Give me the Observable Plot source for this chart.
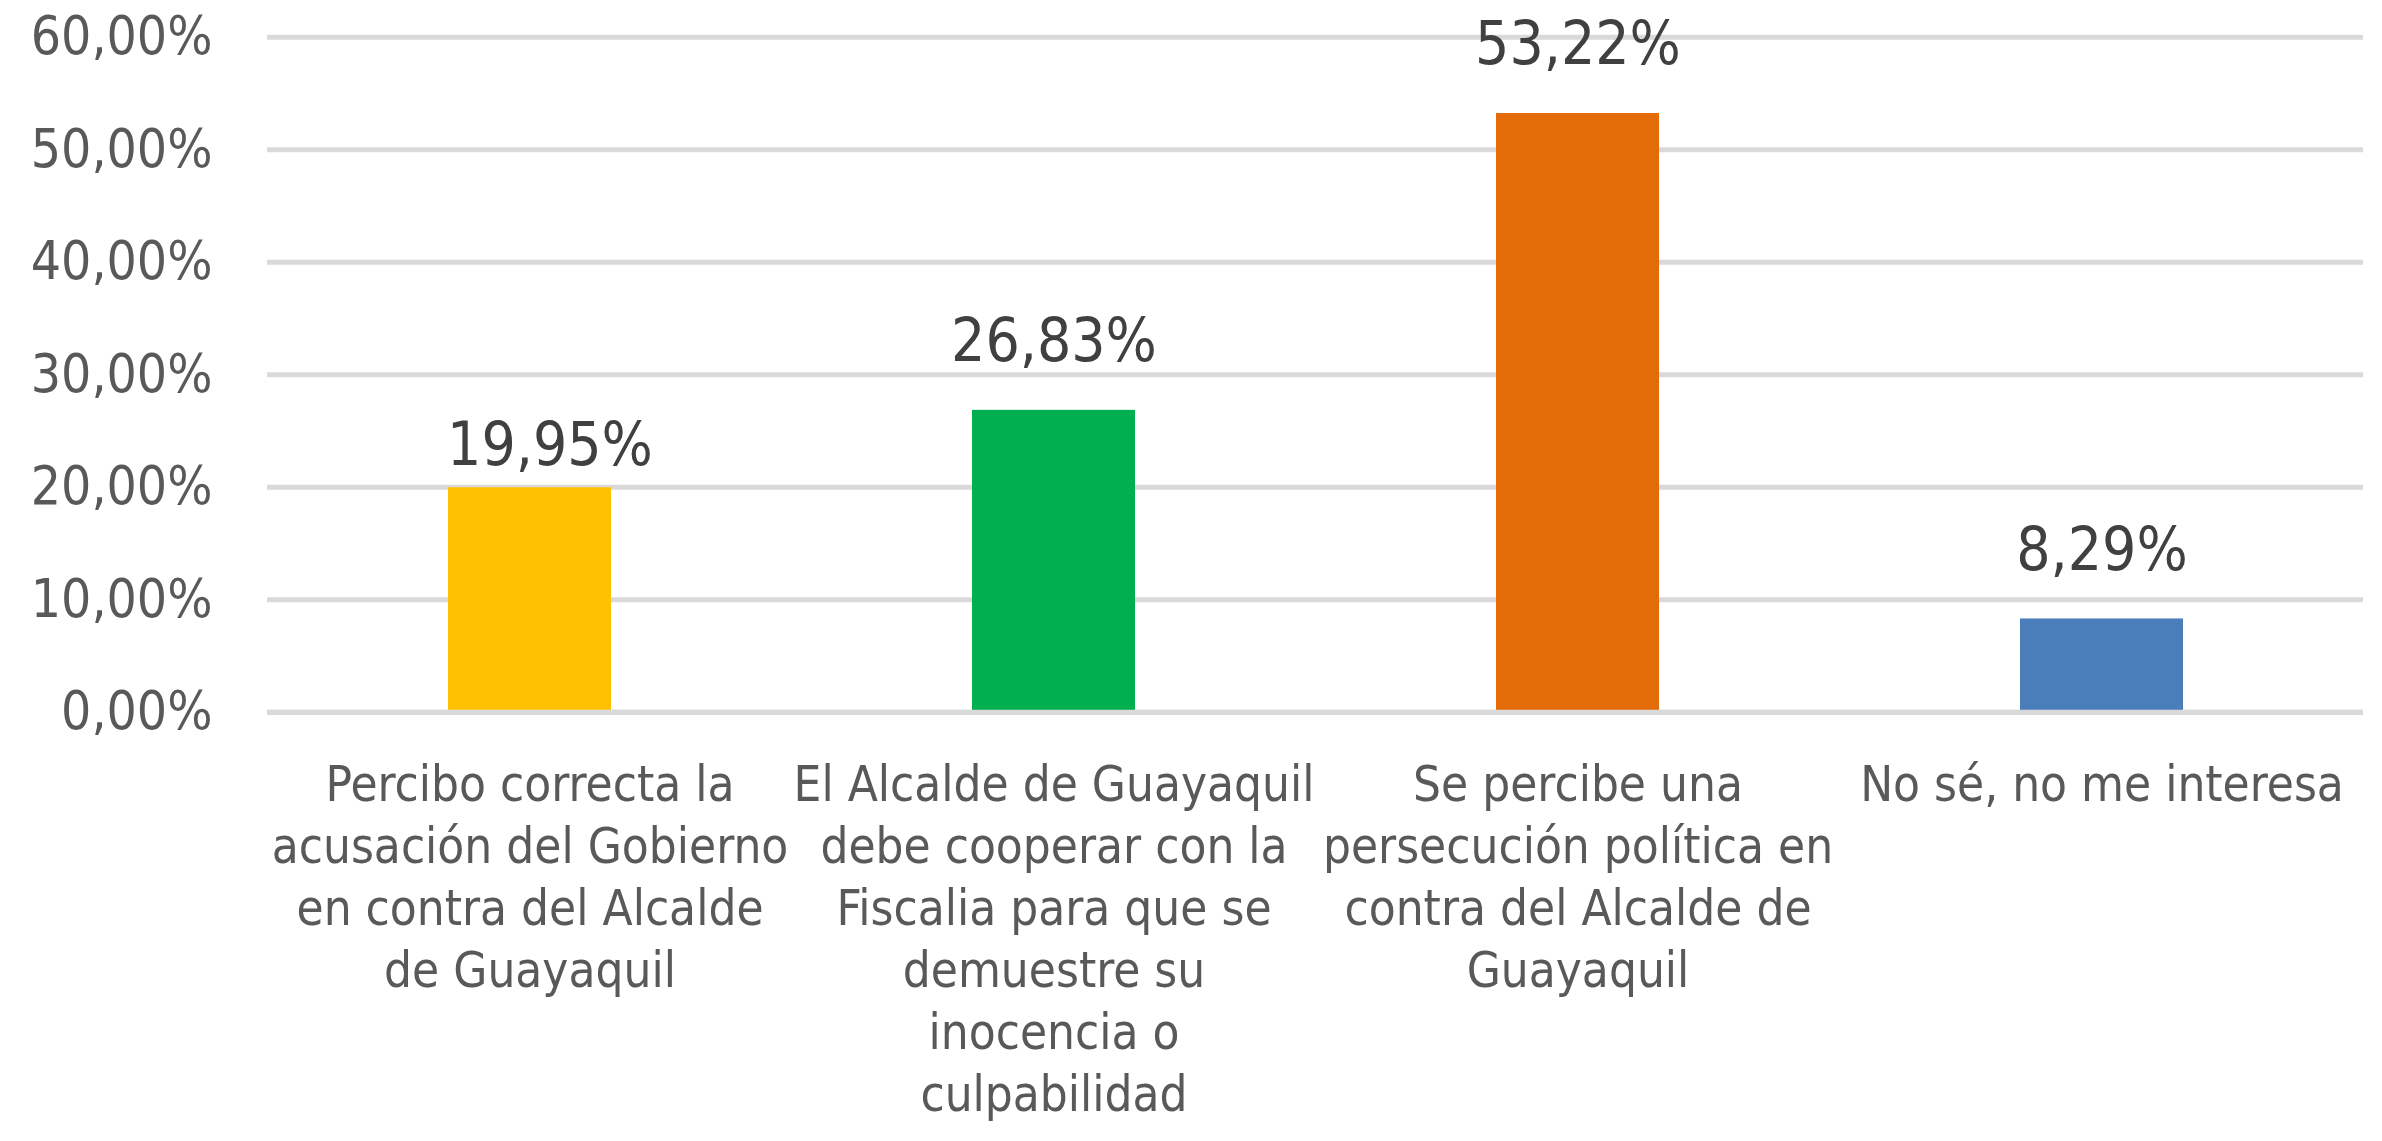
<!DOCTYPE html>
<html>
<head>
<meta charset="utf-8">
<script src="https://cdn.jsdelivr.net/npm/d3@7"></script>
<script src="https://cdn.jsdelivr.net/npm/@observablehq/plot@0.6"></script>
<style>
  html, body { margin: 0; padding: 0; background: #ffffff; }
  #chart svg { display: block; }
  #chart svg text { font-stretch: condensed; }
</style>
</head>
<body>
<div id="chart"></div>
<script>
// Categories (tick labels, with the line breaks of the original)
const categories = [
  "Percibo correcta la\nacusación del Gobierno\nen contra del Alcalde\nde Guayaquil",
  "El Alcalde de Guayaquil\ndebe cooperar con la\nFiscalia para que se\ndemuestre su\ninocencia o\nculpabilidad",
  "Se percibe una\npersecución política en\ncontra del Alcalde de\nGuayaquil",
  "No sé, no me interesa"
];
// Series values (percent)
const values = [19.95, 26.83, 53.22, 8.29];
// Y axis ticks (percent)
const yTicks = [0, 10, 20, 30, 40, 50, 60];
// Bar colours
const barColors = ["#FFC000", "#00B050", "#E36C09", "#4A7EBB"];

const data = categories.map((c, i) => ({category: c, value: values[i]}));
const fmt = v => v.toFixed(2).replace(".", ",") + "%";
const font = "'DejaVu Sans Condensed', 'DejaVu Sans', sans-serif";

const chart = Plot.plot({
  width: 2382,
  height: 1141,
  marginLeft: 267,
  marginRight: 19,
  marginTop: 36.7,
  marginBottom: 429.3,
  style: {fontFamily: font, background: "#ffffff"},
  x: {domain: categories, paddingInner: 0.689, paddingOuter: 0.3445},
  y: {domain: [0, 60]},
  color: {domain: categories, range: barColors},
  marks: [
    Plot.gridY(yTicks, {stroke: "#D9D9D9", strokeOpacity: 1, strokeWidth: 5}),
    Plot.barY(data, {x: "category", y: "value", fill: "category"}),
    Plot.ruleY([0], {stroke: "#D9D9D9", strokeWidth: 5}),
    Plot.axisY(yTicks, {
      tickSize: 0, tickPadding: 55, fontSize: 53, fill: "#595959",
      tickFormat: fmt, label: null
    }),
    Plot.axisX({
      tickSize: 0, tickPadding: 45, fontSize: 49, lineHeight: 1.265,
      fill: "#595959", label: null
    }),
    Plot.text(data, {
      filter: (d, i) => i === 0,
      x: "category", y: "value", text: d => fmt(d.value),
      lineAnchor: "bottom", dy: -23, dx: 20,
      fontSize: 60, fill: "#404040"
    }),
    Plot.text(data, {
      filter: (d, i) => i !== 0,
      x: "category", y: "value", text: d => fmt(d.value),
      lineAnchor: "bottom", dy: -49,
      fontSize: 60, fill: "#404040"
    })
  ]
});

document.getElementById("chart").appendChild(chart);
</script>
</body>
</html>
